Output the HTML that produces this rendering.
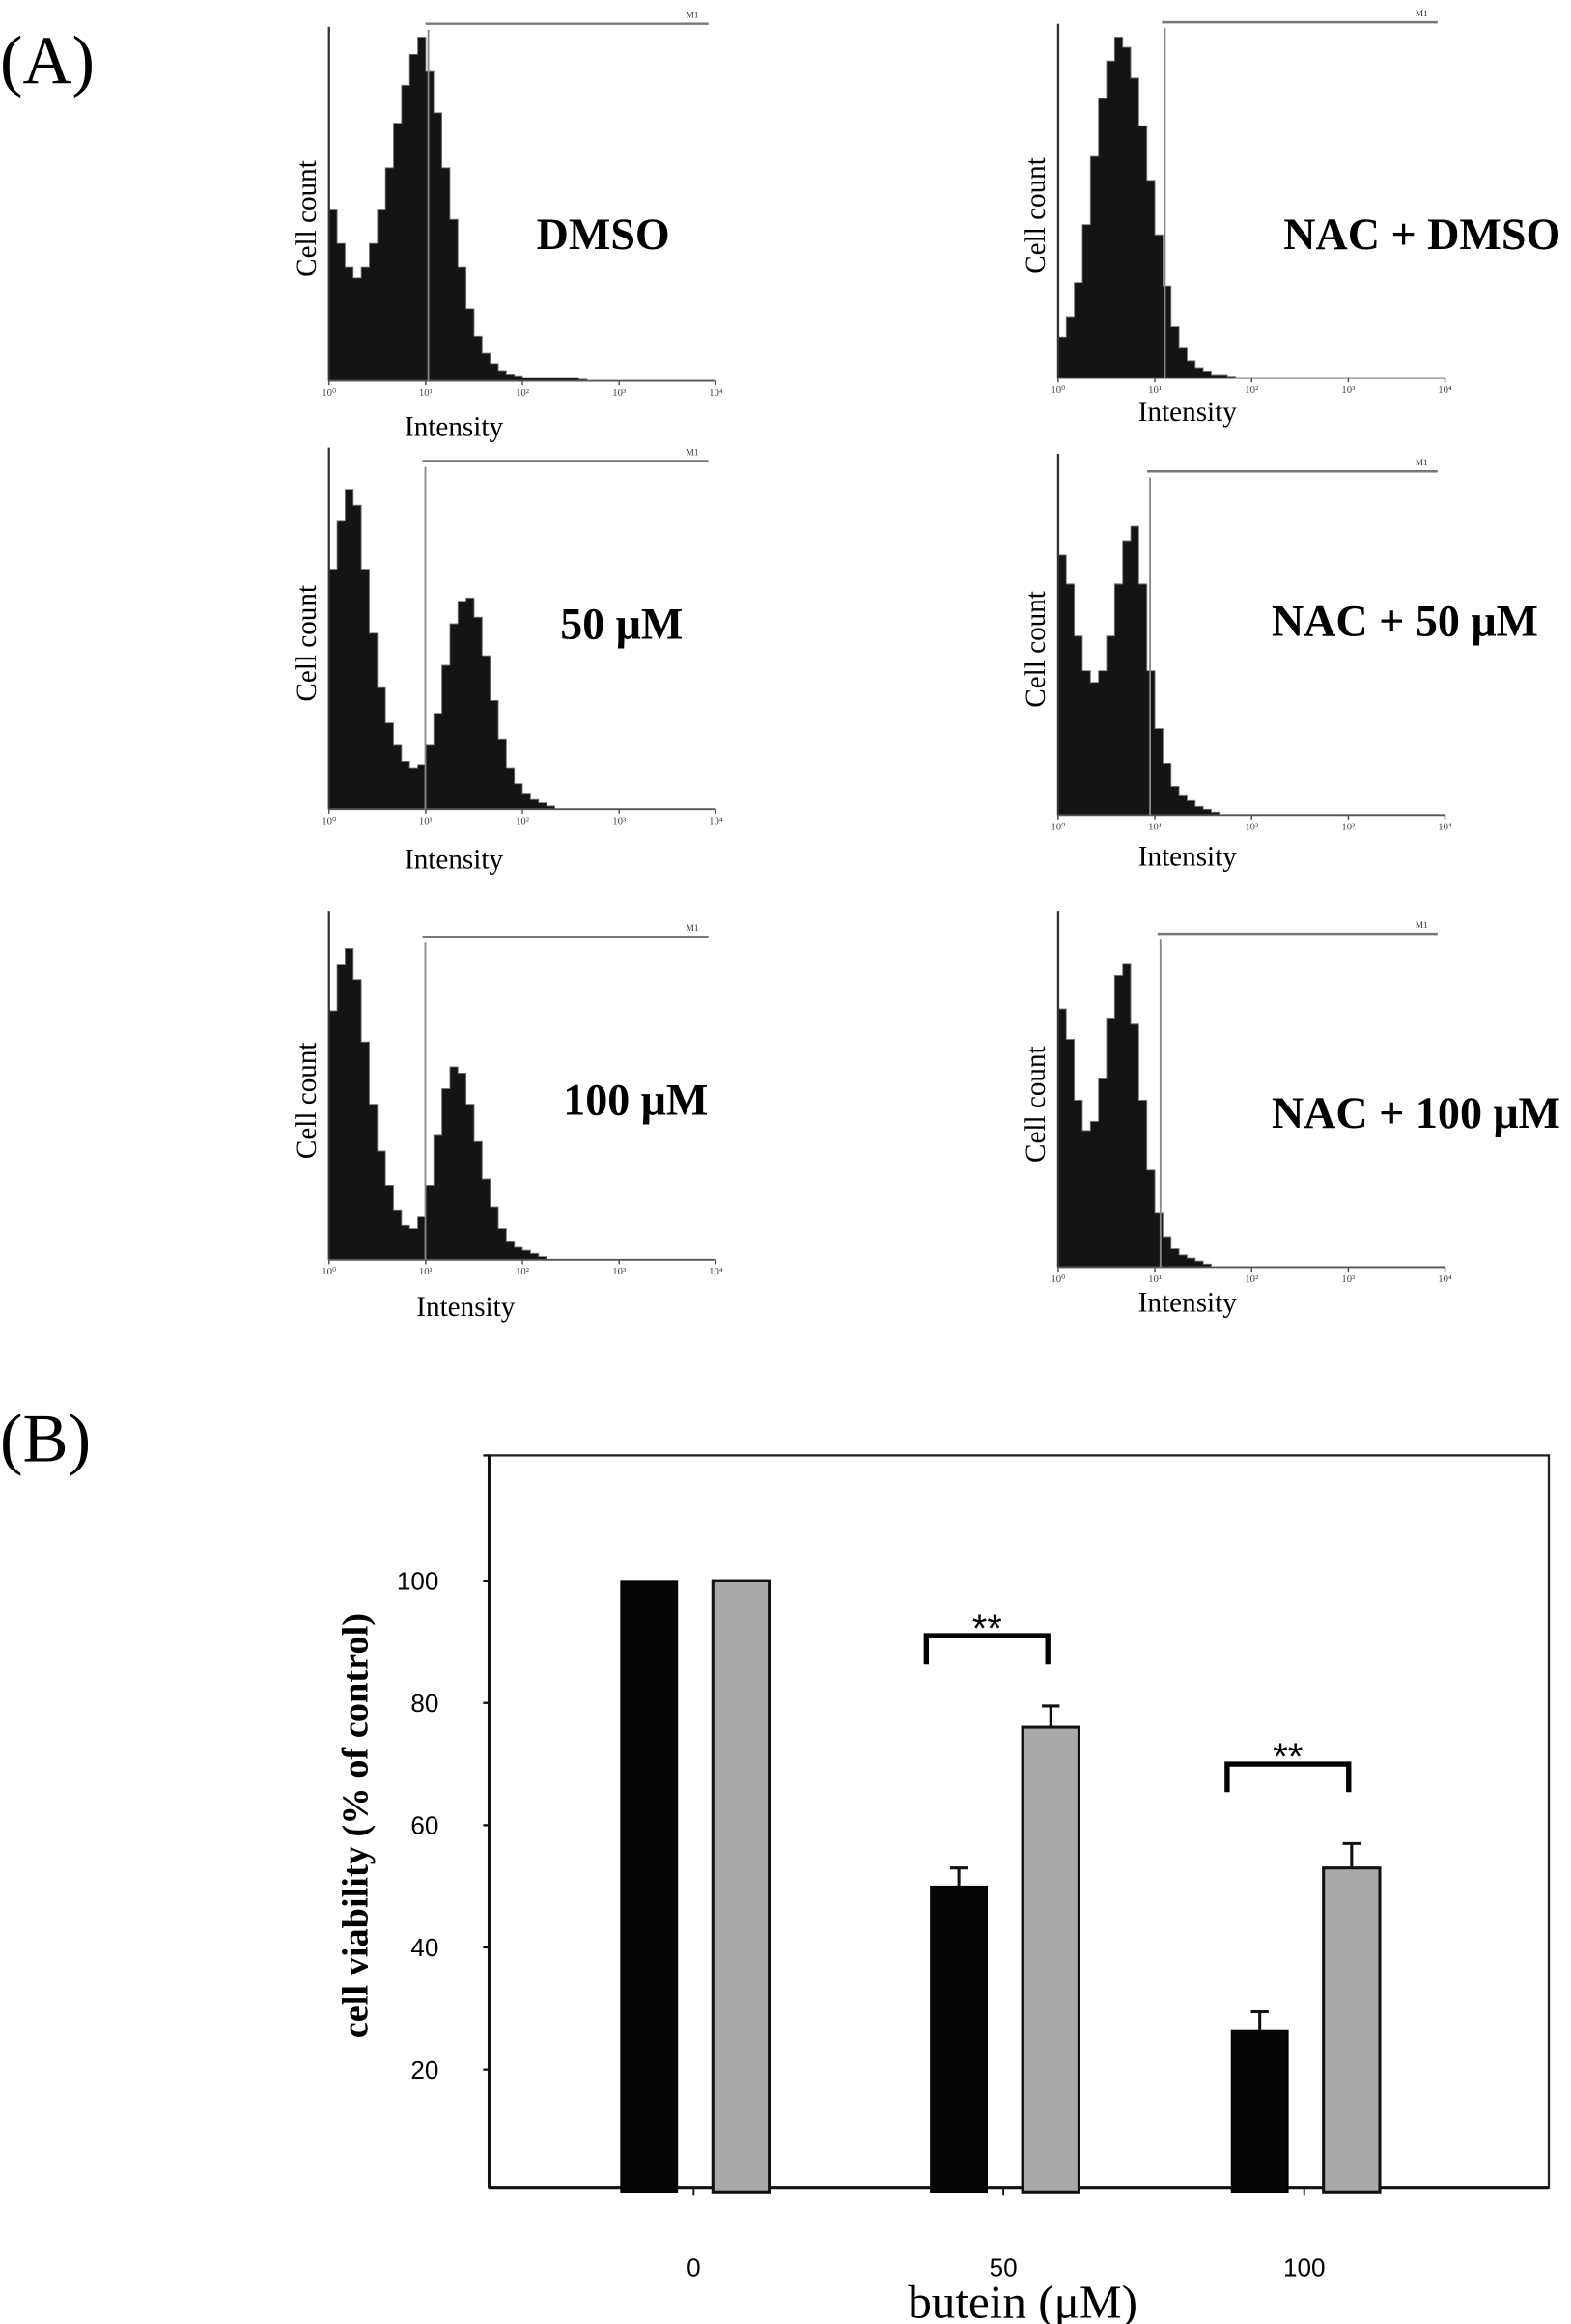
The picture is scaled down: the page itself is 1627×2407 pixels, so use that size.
<!DOCTYPE html>
<html><head><meta charset="utf-8">
<style>
html,body{margin:0;padding:0;background:#fff;}
svg{display:block;}
text{font-family:"Liberation Serif",serif;}
</style></head>
<body>
<svg id="fig" width="1627" height="2407" viewBox="0 0 1060 1568" xmlns="http://www.w3.org/2000/svg">
<rect x="0" y="0" width="1060" height="1568" fill="#fff"/>
<text x="0" y="56" font-size="46">(A)</text>
<text x="0" y="986" font-size="46">(B)</text>
<g id="panelA"></g>
<g id="panelB"></g>
</svg>
<script>
const NS="http://www.w3.org/2000/svg";
function mk(tag,attrs,parent,txt){const e=document.createElementNS(NS,tag);for(const k in attrs)e.setAttribute(k,attrs[k]);if(txt!==undefined)e.textContent=txt;parent.appendChild(e);return e;}

// ---------- Panel A data (relative counts, 12 bins per decade, 4 decades) ----------
const histLabels=["DMSO","NAC + DMSO","50 μM","NAC + 50 μM","100 μM","NAC + 100 μM"];
const histDMSO=[0.5,0.4,0.33,0.3,0.33,0.4,0.5,0.62,0.75,0.86,0.95,1.0,0.9,0.78,0.62,0.47,0.33,0.21,0.13,0.08,0.05,0.03,0.02,0.015,0.01,0.01,0.01,0.01,0.01,0.01,0.01,0.005];
const hist50=[0.75,0.9,1.0,0.95,0.75,0.55,0.38,0.27,0.2,0.15,0.13,0.14,0.2,0.3,0.45,0.58,0.65,0.66,0.6,0.48,0.34,0.22,0.13,0.08,0.05,0.03,0.02,0.01];
const hist100=[0.8,0.95,1.0,0.9,0.7,0.5,0.35,0.24,0.16,0.11,0.1,0.14,0.24,0.4,0.55,0.62,0.6,0.5,0.38,0.26,0.17,0.1,0.06,0.04,0.03,0.02,0.01];
const histNACDMSO=[0.12,0.18,0.28,0.45,0.65,0.82,0.93,1.0,0.97,0.88,0.74,0.58,0.42,0.27,0.15,0.09,0.05,0.03,0.02,0.01,0.01,0.005];
const histNAC50=[0.9,0.8,0.62,0.5,0.46,0.5,0.62,0.8,0.95,1.0,0.8,0.5,0.3,0.18,0.1,0.07,0.05,0.03,0.02,0.01];
const histNAC100=[0.85,0.75,0.55,0.45,0.48,0.62,0.82,0.96,1.0,0.8,0.55,0.32,0.18,0.1,0.06,0.04,0.03,0.02,0.01];
const tickLabels=["10⁰","10¹","10²","10³","10⁴"];

const panels=[
 {name:"dmso",data:histDMSO,lab:histLabels[0],x0:222,x1:483,base:257,top:18,maxH:232,m1y:16,gate:289,lx:362,ly:168,ily:294,ilx:273},
 {name:"nac-dmso",data:histNACDMSO,lab:histLabels[1],x0:714,x1:975,base:255,top:16,maxH:230,m1y:15,gate:786,lx:866,ly:168,ily:284,ilx:768},
 {name:"50um",data:hist50,lab:histLabels[2],x0:222,x1:483,base:546,top:302,maxH:216,m1y:311,gate:287,lx:378,ly:431,ily:586,ilx:273},
 {name:"nac-50um",data:histNAC50,lab:histLabels[3],x0:714,x1:975,base:550,top:306,maxH:195,m1y:318,gate:776,lx:858,ly:429,ily:584,ilx:768},
 {name:"100um",data:hist100,lab:histLabels[4],x0:222,x1:483,base:850,top:615,maxH:210,m1y:632,gate:287,lx:380,ly:752,ily:888,ilx:281},
 {name:"nac-100um",data:histNAC100,lab:histLabels[5],x0:714,x1:975,base:855,top:615,maxH:205,m1y:630,gate:783,lx:858,ly:761,ily:885,ilx:768}
];
const A=document.getElementById('panelA');
panels.forEach(p=>{
  const g=mk('g',{},A);
  
  
  const w=p.x1-p.x0, binW=w/48;
  const xs=i=>p.x0+i*binW;
  const ys=v=>p.base-v*p.maxH;
  let d=`M${p.x0},${p.base}`;
  p.data.forEach((v,i)=>{d+=` L${xs(i)},${ys(v)} L${xs(i+1)},${ys(v)}`;});
  d+=` L${xs(p.data.length)},${p.base} Z`;
  const path=mk('path',{d:d,fill:'#141414',stroke:'#777','stroke-width':0.6},g);
  
  
  mk('line',{x1:p.x0,y1:p.top,x2:p.x0,y2:p.base,stroke:'#333','stroke-width':1.5},g);
  mk('line',{x1:p.x0,y1:p.base,x2:p.x1,y2:p.base,stroke:'#555','stroke-width':1.2},g);
  tickLabels.forEach((t,i)=>{
    const tx=p.x0+i*w/4;
    mk('line',{x1:tx,y1:p.base,x2:tx,y2:p.base+3,stroke:'#555','stroke-width':1},g);
    const tl=mk('text',{x:tx,y:p.base+10,'font-size':7,'text-anchor':'middle',fill:'#444'},g,t);
    
    
  });
  mk('line',{x1:p.gate,y1:p.m1y+4,x2:p.gate,y2:p.base,stroke:'#888','stroke-width':1.2},g);
  const m1=mk('line',{x1:p.gate-2,y1:p.m1y,x2:p.x1-5,y2:p.m1y,stroke:'#777','stroke-width':1.6},g);
  
  
  mk('text',{x:p.x1-20,y:p.m1y-4,'font-size':6,fill:'#333'},g,'M1');
  const yl=mk('text',{x:0,y:0,'font-size':19,'text-anchor':'middle',transform:`translate(${p.x0-9},${(p.top+p.base)/2+10}) rotate(-90)`},g,'Cell count');
  
  
  const xl=mk('text',{x:p.ilx,y:p.ily,'font-size':19},g,'Intensity');
  
  
  const lab=mk('text',{x:p.lx,y:p.ly,'font-size':30,'font-weight':'bold'},g,p.lab);
  
  
});

// ---------- Panel B data ----------
const categories=["0","50","100"];
const dmsoValues=[100,50,26.5];
const nacValues=[100,76,53];
const dmsoErr=[0,3,3];
const nacErr=[0,3.5,4];
const yTicks=[20,40,60,80,100];

const B=document.getElementById('panelB');
const bx0=330,bx1=1045,by0=982,by1=1476;
const yScale=v=>1479-v*4.125;
const catX=[468,677,880];
const xScale=i=>catX[i];
const barW=38;
const box=mk('rect',{x:bx0,y:by0,width:bx1-bx0,height:by1-by0,fill:'none',stroke:'#222','stroke-width':1.5},B);


mk('line',{x1:bx0,y1:by1,x2:bx1,y2:by1,stroke:'#111','stroke-width':2},B);
mk('line',{x1:bx0,y1:by0,x2:bx0,y2:by1,stroke:'#111','stroke-width':2},B);
yTicks.forEach(t=>{
  const y=yScale(t);
  mk('line',{x1:bx0-4,y1:y,x2:bx0,y2:y,stroke:'#111','stroke-width':1.5},B);
  const tl=mk('text',{x:bx0-34,y:y+6,'font-size':17,'text-anchor':'end',style:'font-family:"Liberation Sans",sans-serif'},B,String(t));
  
  
});
mk('line',{x1:bx0-4,y1:by0,x2:bx0,y2:by0,stroke:'#111','stroke-width':1.5},B);
categories.forEach((c,i)=>{
  const cx=xScale(i);
  mk('line',{x1:cx,y1:by1,x2:cx,y2:by1+5,stroke:'#111','stroke-width':1.2},B);
  const tl=mk('text',{x:cx,y:1536,'font-size':17,'text-anchor':'middle',style:'font-family:"Liberation Sans",sans-serif'},B,c);
  
  
  const bx=cx-30-barW/2;
  const b1=mk('rect',{x:bx,y:yScale(dmsoValues[i]),width:barW,height:yScale(0)-yScale(dmsoValues[i]),fill:'#050505',stroke:'#000','stroke-width':1},B);
  
  
  const gx=cx+32-barW/2;
  const b2=mk('rect',{x:gx,y:yScale(nacValues[i]),width:barW,height:yScale(0)-yScale(nacValues[i]),fill:'#a9a9a9',stroke:'#111','stroke-width':2},B);
  
  
  [[cx-30,dmsoValues[i],dmsoErr[i]],[cx+32,nacValues[i],nacErr[i]]].forEach(([ex,v,e])=>{
    if(!e)return;
    const eb=mk('path',{d:`M${ex},${yScale(v)} L${ex},${yScale(v+e)} M${ex-6},${yScale(v+e)} L${ex+6},${yScale(v+e)}`,stroke:'#111','stroke-width':2,fill:'none'},B);
    
    
  });
  if(i>0){
    const top=yScale(Math.max(nacValues[i]+nacErr[i],dmsoValues[i])+ (i===1?11.5:13));
    const xa=cx-52,xb=cx+30;
    const br=mk('path',{d:`M${xa},${top+19} L${xa},${top} L${xb},${top} L${xb},${top+19}`,stroke:'#000','stroke-width':3.5,fill:'none'},B);
    
    
    const st=mk('text',{x:(xa+xb)/2,y:top+4,'font-size':26,'text-anchor':'middle',style:'font-family:"Liberation Sans",sans-serif'},B,'**');
    
    
  }
});
const yt=mk('text',{x:0,y:0,'font-size':25,'font-weight':'bold','text-anchor':'middle',transform:'translate(248,1232) rotate(-90)'},B,'cell viability (% of control)');


const xt=mk('text',{x:690,y:1564,'font-size':32,'text-anchor':'middle'},B,'butein (μM)');


</script>
</body></html>
